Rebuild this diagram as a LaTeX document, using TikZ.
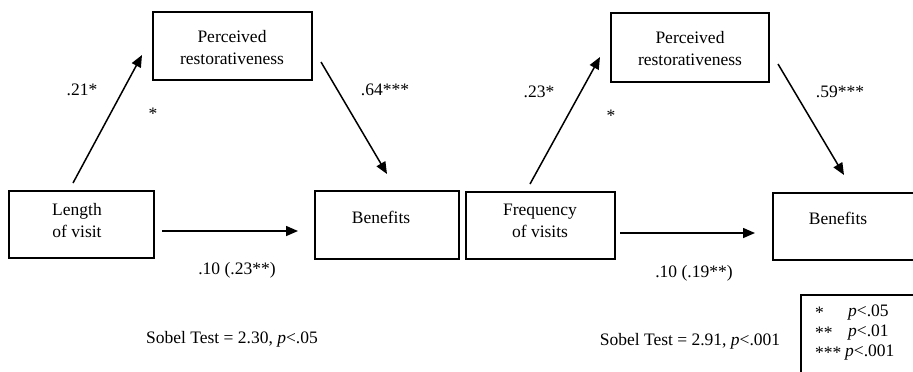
\documentclass[tikz,border=0pt]{standalone}
\usepackage{fontspec}
\setmainfont{Liberation Serif}
\usetikzlibrary{arrows.meta}
\begin{document}
\begin{tikzpicture}[x=1bp,y=-1bp,
  every node/.style={font=\fontsize{17.5bp}{22bp}\selectfont, inner sep=0pt},
  box/.style={draw, line width=1.8bp, minimum width=#1, inner sep=0pt},
  arr/.style={line width=1.5bp, -{Triangle[length=12bp,width=10bp]}},
  lbl/.style={align=center}]
\useasboundingbox (0,0) rectangle (913,371);
% ---------- left panel ----------
\node[box=159bp, minimum height=68bp] (pr1) at (232.5,46) {};
\node[box=145bp, minimum height=67bp] (len) at (81.5,224.5) {};
\node[box=144bp, minimum height=68bp] (ben1) at (387,225) {};
\node[lbl] (pr1t) at (232,48) {Perceived\\restorativeness};
\node[lbl] (lent) at (77,221) {Length\\of visit};
\node[lbl] (ben1t) at (381,217) {Benefits};
\coordinate (a1s) at (73,183);  \coordinate (a1e) at (142,55);
\coordinate (a2s) at (321,62);  \coordinate (a2e) at (387,174);
\coordinate (a3s) at (162,231); \coordinate (a3e) at (298,231);
\draw[arr] (a1s) -- (a1e);
\draw[arr] (a2s) -- (a2e);
\draw[arr] (a3s) -- (a3e);
\node (l21) at (82,90) {.21*};
\node (ls1) at (153,114) {*};
\node (l64) at (385,90) {.64***};
\node (l10a) at (237,270) {.10 (.23**)};
\node (sob1) at (232,339) {Sobel Test = 2.30, \textit{p}<.05};
% ---------- right panel ----------
\node[box=158bp, minimum height=69bp] (pr2) at (690,47.5) {};
\node[box=149bp, minimum height=67bp] (freq) at (540.5,225.5) {};
\node[box=150bp, minimum height=67bp] (ben2) at (848,226.5) {};
\node[lbl] (pr2t) at (690,49) {Perceived\\restorativeness};
\node[lbl] (freqt) at (540,221) {Frequency\\of visits};
\node[lbl] (ben2t) at (838,218) {Benefits};
\coordinate (b1s) at (530,184); \coordinate (b1e) at (600,57);
\coordinate (b2s) at (778,64);  \coordinate (b2e) at (844,175);
\coordinate (b3s) at (620,233); \coordinate (b3e) at (755,233);
\draw[arr] (b1s) -- (b1e);
\draw[arr] (b2s) -- (b2e);
\draw[arr] (b3s) -- (b3e);
\node (l23) at (539,92) {.23*};
\node (ls2) at (611,116) {*};
\node (l59) at (840,92) {.59***};
\node (l10b) at (694,273) {.10 (.19**)};
\node (sob2) at (690,341) {Sobel Test = 2.91, \textit{p}<.001};
% ---------- legend ----------
\draw[line width=1.8bp] (801,380) |- (930,295) coordinate (legtr);
\node[anchor=west] (k1) at (815,313) {*};
\node[anchor=west] (k2) at (815,333) {**};
\node[anchor=west] (k3) at (815,353) {***};
\node[anchor=west] (v1) at (848,313) {\textit{p}<.05};
\node[anchor=west] (v2) at (848,333) {\textit{p}<.01};
\node[anchor=west] (v3) at (845,353) {\textit{p}<.001};
\end{tikzpicture}
\end{document}
